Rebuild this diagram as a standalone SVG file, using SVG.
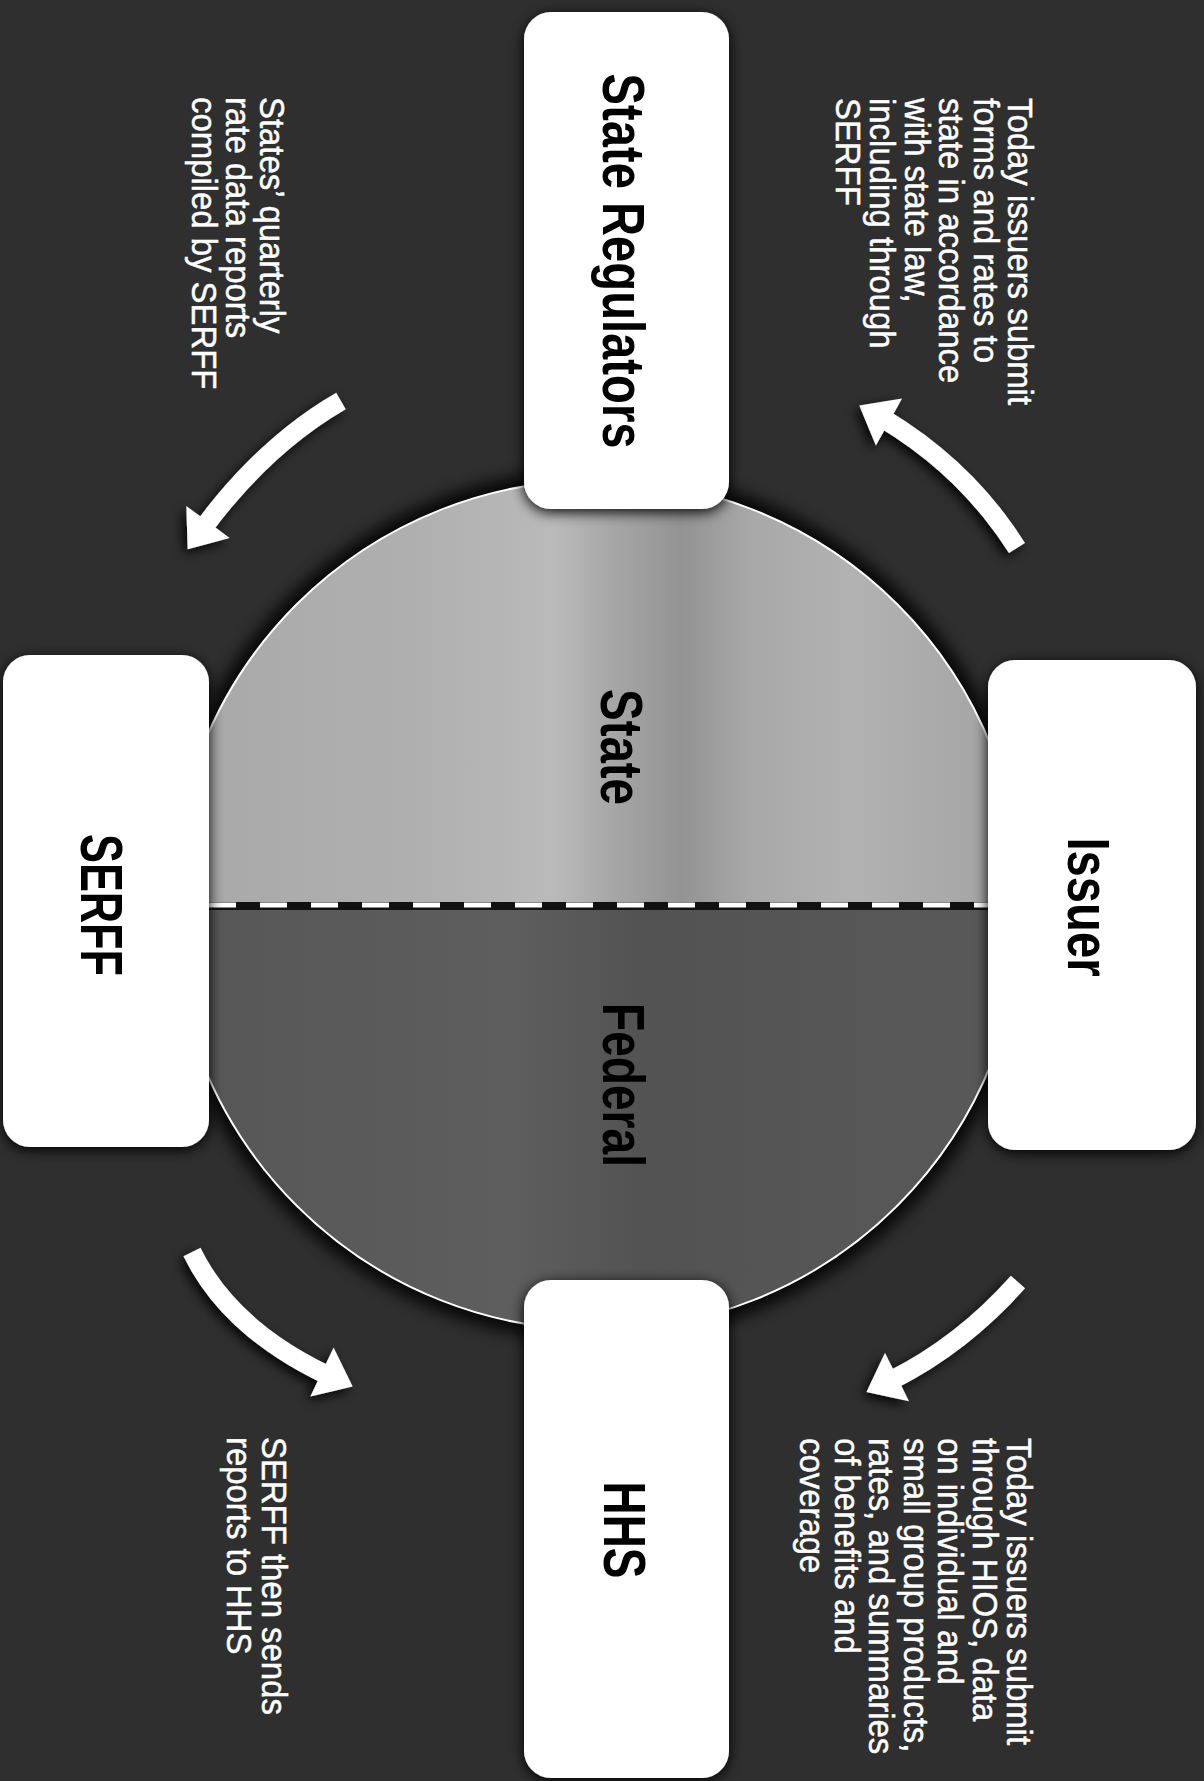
<svg xmlns="http://www.w3.org/2000/svg" width="1204" height="1781" viewBox="0 0 1204 1781">
<style>
.box{fill:#ffffff}
.lbl{font-family:"Liberation Sans",Arial,sans-serif;font-weight:bold;font-size:60px;fill:#000000}
.note{font-family:"Liberation Sans",Arial,sans-serif;font-size:35px;fill:#ffffff;stroke:#ffffff;stroke-width:0.5}
.shaft{fill:none;stroke:#ffffff;stroke-width:19;stroke-linecap:butt}
.head{fill:#ffffff}
</style>
<defs>
<filter id="halo" x="-20%" y="-20%" width="140%" height="140%">
<feDropShadow dx="0" dy="3" stdDeviation="7" flood-color="#000" flood-opacity="1"/>
</filter>
<filter id="ashadow" x="-30%" y="-30%" width="160%" height="160%">
<feDropShadow dx="-4" dy="4" stdDeviation="6" flood-color="#000" flood-opacity="0.9"/>
</filter>
<filter id="blur8"><feGaussianBlur stdDeviation="8"/></filter>
<linearGradient id="stateG" x1="0" y1="0" x2="1" y2="0">
<stop offset="0" stop-color="#a8a8a8"/>
<stop offset="0.3" stop-color="#b0b0b0"/>
<stop offset="0.45" stop-color="#bababa"/>
<stop offset="0.52" stop-color="#a6a6a6"/>
<stop offset="0.6" stop-color="#939393"/>
<stop offset="0.68" stop-color="#a8a8a8"/>
<stop offset="0.8" stop-color="#b2b2b2"/>
<stop offset="1" stop-color="#a2a2a2"/>
</linearGradient>
<linearGradient id="fedG" x1="0" y1="0" x2="1" y2="0">
<stop offset="0" stop-color="#565656"/>
<stop offset="0.4" stop-color="#5e5e5e"/>
<stop offset="0.55" stop-color="#535353"/>
<stop offset="1" stop-color="#595959"/>
</linearGradient>
</defs>

<rect x="0" y="0" width="1204" height="1781" fill="#2f2f2f"/>

<g id="circle">
<circle cx="597" cy="905" r="436" fill="#000" opacity="0.85" filter="url(#blur8)"/>
<path d="M172,905 A425,425 0 0 1 1022,905 Z" fill="url(#stateG)"/>
<path d="M172,905 A425,425 0 0 0 1022,905 Z" fill="url(#fedG)"/>
<circle cx="597" cy="905" r="425" fill="none" stroke="#ffffff" stroke-width="2"/>
<line x1="209" y1="906" x2="988" y2="906" stroke="#111" stroke-width="8"/>
<line x1="209" y1="905" x2="988" y2="905" stroke="#ffffff" stroke-width="5" stroke-dasharray="27 24"/>
<text class="lbl" transform="translate(601,747) rotate(90)" text-anchor="middle" textLength="116" lengthAdjust="spacingAndGlyphs">State</text>
<text class="lbl" transform="translate(603,1085) rotate(90)" text-anchor="middle" textLength="164" lengthAdjust="spacingAndGlyphs">Federal</text>
</g>

<g id="connectors" filter="url(#ashadow)">
<g id="arrow-issuer-state">
<path class="shaft" d="M1017,548 Q967,469 884,419"/>
<polygon class="head" points="859.3,405.5 902.1,398.4 875.9,445.6"/>
</g>
<g id="arrow-state-serff">
<path class="shaft" d="M341,401 Q265.5,444.5 204,527"/>
<polygon class="head" points="187.7,549.3 229.7,538.1 186.3,505.9"/>
</g>
<g id="arrow-serff-hhs">
<path class="shaft" d="M192,1252 Q229,1328 327,1375"/>
<polygon class="head" points="352.7,1386.5 310.4,1396.4 333.6,1347.6"/>
</g>
<g id="arrow-issuer-hhs">
<path class="shaft" d="M1018,1282 Q962.5,1344.5 892,1380"/>
<polygon class="head" points="866.5,1392.1 909,1401.2 885,1352.8"/>
</g>
</g>

<g id="connector-labels">
<text class="note" transform="translate(1008,98) rotate(90) scale(0.94,1)">
<tspan x="0" dy="0">Today issuers submit</tspan>
<tspan x="0" dy="34.4">forms and rates to</tspan>
<tspan x="0" dy="34.4">state in accordance</tspan>
<tspan x="0" dy="34.4">with state law,</tspan>
<tspan x="0" dy="34.4">including through</tspan>
<tspan x="0" dy="34.4">SERFF</tspan>
</text>
<text class="note" transform="translate(260,97) rotate(90) scale(0.94,1)">
<tspan x="0" dy="0">States’ quarterly</tspan>
<tspan x="0" dy="34">rate data reports</tspan>
<tspan x="0" dy="34">compiled by SERFF</tspan>
</text>
<text class="note" transform="translate(1007,1438) rotate(90) scale(0.94,1)">
<tspan x="0" dy="0">Today issuers submit</tspan>
<tspan x="0" dy="34.5">through HIOS, data</tspan>
<tspan x="0" dy="34.5">on individual and</tspan>
<tspan x="0" dy="34.5">small group products,</tspan>
<tspan x="0" dy="34.5">rates, and summaries</tspan>
<tspan x="0" dy="34.5">of benefits and</tspan>
<tspan x="0" dy="34.5">coverage</tspan>
</text>
<text class="note" transform="translate(262,1437) rotate(90) scale(0.94,1)">
<tspan x="0" dy="0">SERFF then sends</tspan>
<tspan x="0" dy="35">reports to HHS</tspan>
</text>
</g>

<g id="node-state-regulators">
<rect class="box" x="524" y="12" width="205" height="497" rx="27" filter="url(#halo)"/>
<text class="lbl" transform="translate(603,261) rotate(90)" text-anchor="middle" textLength="375" lengthAdjust="spacingAndGlyphs">State Regulators</text>
</g>

<g id="node-issuer">
<rect class="box" x="988" y="660" width="208" height="490" rx="27" filter="url(#halo)"/>
<text class="lbl" transform="translate(1068,907) rotate(90)" text-anchor="middle" textLength="139" lengthAdjust="spacingAndGlyphs">Issuer</text>
</g>

<g id="node-serff">
<rect class="box" x="3" y="655" width="206" height="492" rx="27" filter="url(#halo)"/>
<text class="lbl" transform="translate(81,905) rotate(90)" text-anchor="middle" textLength="142" lengthAdjust="spacingAndGlyphs">SERFF</text>
</g>

<g id="node-hhs">
<rect class="box" x="524" y="1280" width="205" height="498" rx="27" filter="url(#halo)"/>
<text class="lbl" transform="translate(604,1530) rotate(90)" text-anchor="middle" textLength="97" lengthAdjust="spacingAndGlyphs">HHS</text>
</g>
</svg>
